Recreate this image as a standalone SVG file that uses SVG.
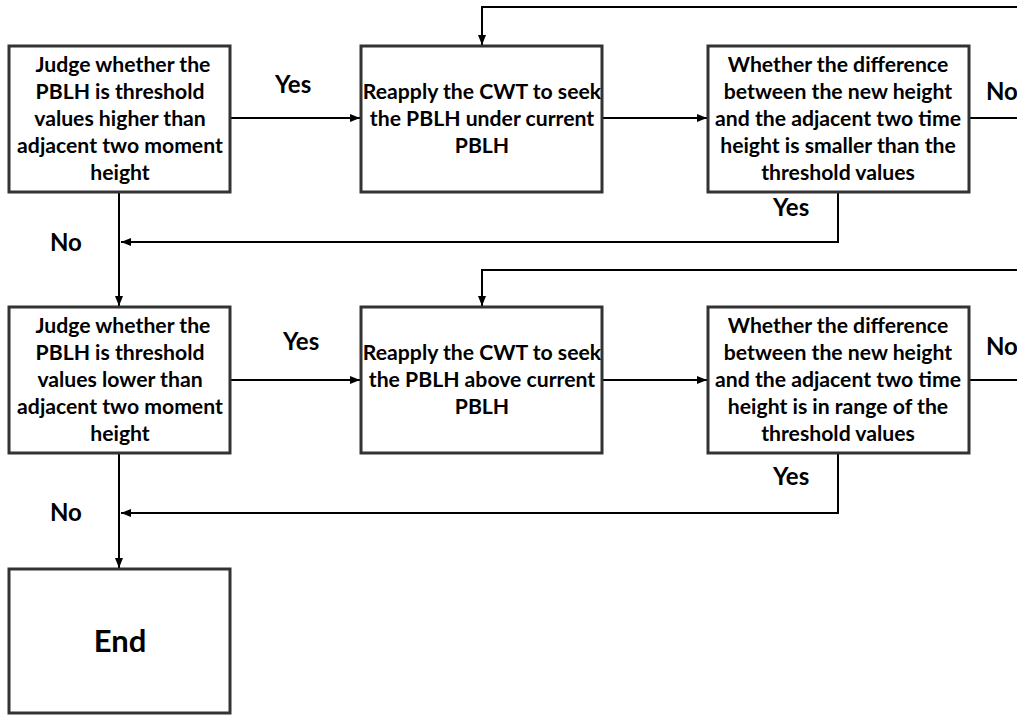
<svg xmlns="http://www.w3.org/2000/svg" width="1017" height="715" viewBox="0 0 1017 715">
<style>
.box{fill:#fff;stroke:#333;stroke-width:3}
.t{font-family:Lato,"Open Sans","Liberation Sans",sans-serif;font-weight:bold;font-size:21.2px;fill:#000;text-anchor:middle}
.lbl{font-family:Lato,"Open Sans","Liberation Sans",sans-serif;font-weight:bold;font-size:24px;fill:#000}
.c{fill:none;stroke:#000;stroke-width:2}
</style>
<defs>
<marker id="ah" viewBox="0 0 10 8" refX="10" refY="4" markerWidth="10" markerHeight="8" markerUnits="userSpaceOnUse" orient="auto">
<path d="M0,0 L10,4 L0,8 Z" fill="#000"/>
</marker>
</defs>
<rect width="1017" height="715" fill="#fff"/>
<g id="connectors">
<path class="c" d="M230,118 H360" marker-end="url(#ah)"/>
<path class="c" d="M602,118 H707" marker-end="url(#ah)"/>
<path class="c" d="M969,118 H1017"/>
<path class="c" d="M1017,7 H482 V45" marker-end="url(#ah)"/>
<path class="c" d="M838,192 V242 H121" marker-end="url(#ah)"/>
<path class="c" d="M119,192 V306" marker-end="url(#ah)"/>
<path class="c" d="M230,380 H360" marker-end="url(#ah)"/>
<path class="c" d="M602,380 H707" marker-end="url(#ah)"/>
<path class="c" d="M969,380 H1017"/>
<path class="c" d="M1017,270 H482 V306" marker-end="url(#ah)"/>
<path class="c" d="M838,453 V513 H121" marker-end="url(#ah)"/>
<path class="c" d="M119,453 V568" marker-end="url(#ah)"/>
<text class="lbl" x="275" y="93">Yes</text>
<text class="lbl" x="986" y="100">No</text>
<text class="lbl" x="773" y="216">Yes</text>
<text class="lbl" x="50" y="251">No</text>
<text class="lbl" x="283" y="350">Yes</text>
<text class="lbl" x="986" y="355">No</text>
<text class="lbl" x="773" y="485">Yes</text>
<text class="lbl" x="50" y="521">No</text>
</g>
<g id="n1">
<rect class="box" x="9" y="46" width="221" height="146"/>
<text class="t"><tspan x="123" y="72">Judge whether the</tspan><tspan x="120" y="99">PBLH is threshold</tspan><tspan x="120" y="126">values higher than</tspan><tspan x="120" y="153">adjacent two moment</tspan><tspan x="120" y="180">height</tspan></text>
</g>
<g id="n2">
<rect class="box" x="361" y="46" width="241" height="146"/>
<text class="t"><tspan x="482" y="99">Reapply the CWT to seek</tspan><tspan x="482" y="126">the PBLH under current</tspan><tspan x="482" y="153">PBLH</tspan></text>
</g>
<g id="n3">
<rect class="box" x="708" y="46" width="261" height="146"/>
<text class="t"><tspan x="838" y="72">Whether the difference</tspan><tspan x="838" y="99">between the new height</tspan><tspan x="838" y="126">and the adjacent two time</tspan><tspan x="838" y="153">height is smaller than the</tspan><tspan x="838" y="180">threshold values</tspan></text>
</g>
<g id="n4">
<rect class="box" x="9" y="307" width="221" height="146"/>
<text class="t"><tspan x="123" y="333">Judge whether the</tspan><tspan x="120" y="360">PBLH is threshold</tspan><tspan x="120" y="387">values lower than</tspan><tspan x="120" y="414">adjacent two moment</tspan><tspan x="120" y="441">height</tspan></text>
</g>
<g id="n5">
<rect class="box" x="361" y="307" width="241" height="146"/>
<text class="t"><tspan x="482" y="360">Reapply the CWT to seek</tspan><tspan x="482" y="387">the PBLH above current</tspan><tspan x="482" y="414">PBLH</tspan></text>
</g>
<g id="n6">
<rect class="box" x="708" y="307" width="261" height="146"/>
<text class="t"><tspan x="838" y="333">Whether the difference</tspan><tspan x="838" y="360">between the new height</tspan><tspan x="838" y="387">and the adjacent two time</tspan><tspan x="838" y="414">height is in range of the</tspan><tspan x="838" y="441">threshold values</tspan></text>
</g>
<g id="n7">
<rect class="box" x="9" y="569" width="221" height="144"/>
<text class="t" x="120" y="652" style="font-size:31px">End</text>
</g>
</svg>
